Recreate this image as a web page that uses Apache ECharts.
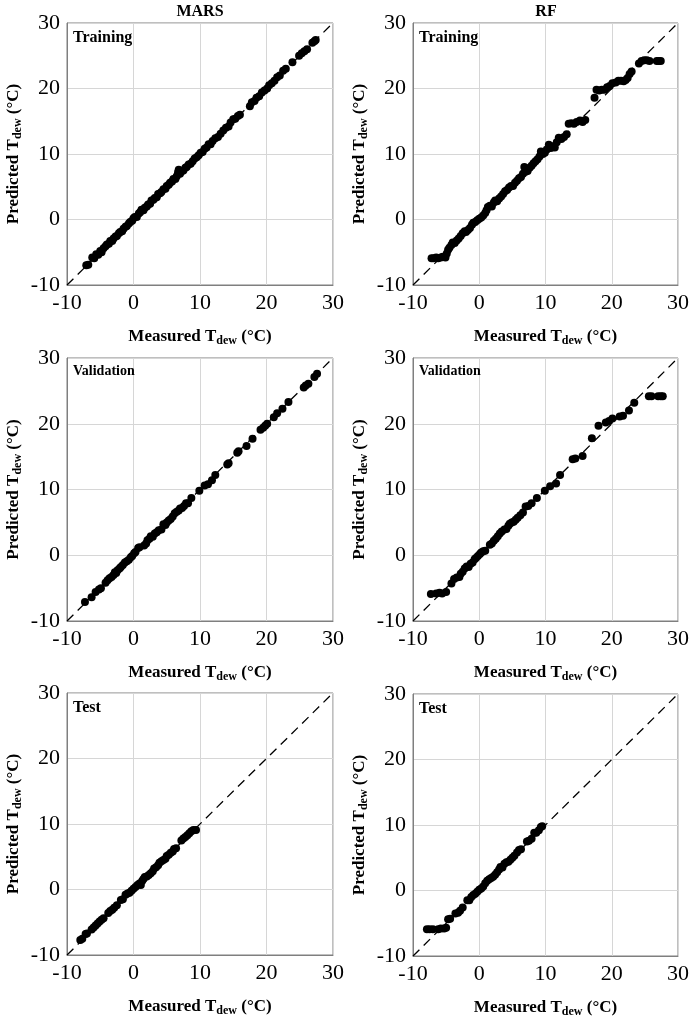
<!DOCTYPE html>
<html>
	<head>
		<meta charset="utf-8" />
		<title>MARS / RF Tdew</title>
		<style>
			html, body { margin: 0; padding: 0; background: #fff; }
			#chartmain { width: 692px; height: 1022px; }
		</style>
	</head>
	<body>
		<div id="chartmain"></div>
		<script type="text/javascript" src="https://cdn.jsdelivr.net/npm/echarts/dist/echarts.min.js"></script>
		<script type="text/javascript">
			// axis range and ticks (same for every panel)
			var axisMin = -10;
			var axisMax = 30;
			var tickStep = 10;

			var models = ['MARS', 'RF'];
			var phases = ['Training', 'Validation', 'Test'];

			// [measured, predicted]
			var marsTrain = [
				[-7.1,-7.0],[-6.8,-6.9],[-6.2,-5.8],[-5.9,-5.9],[-5.6,-5.3],[-5.3,-5.4],[-5.0,-4.8],[-4.8,-5.0],
				[-4.5,-4.4],[-4.2,-4.1],[-4.0,-3.8],[-3.7,-3.7],[-3.5,-3.3],[-3.2,-3.3],[-3.0,-2.9],[-2.7,-2.6],
				[-2.5,-2.5],[-2.2,-2.1],[-2.0,-1.9],[-1.7,-1.8],[-1.5,-1.4],[-1.2,-1.1],[-1.0,-1.0],[-0.7,-0.6],
				[-0.5,-0.4],[-0.2,-0.2],[0.0,0.2],[0.2,0.4],[0.5,0.4],[0.8,0.9],[1.0,1.1],[1.2,1.5],[1.5,1.4],
				[1.7,1.8],[2.0,2.0],[2.2,2.3],[2.5,2.4],[2.7,2.9],[3.0,3.0],[3.2,3.3],[3.5,3.4],[3.7,3.9],
				[4.0,4.0],[4.2,4.2],[4.5,4.6],[4.8,4.7],[5.0,5.1],[5.3,5.3],[5.5,5.6],[5.8,5.8],[6.0,6.2],
				[6.3,6.2],[6.5,6.6],[6.7,7.2],[6.8,7.6],[7.0,7.0],[7.3,7.4],[7.5,7.5],[7.8,7.9],[8.0,8.0],
				[8.3,8.4],[8.6,8.5],[8.9,8.9],[9.2,9.3],[9.5,9.5],[9.8,9.8],[10.1,10.2],[10.4,10.3],[10.7,10.8],
				[11.0,11.0],[11.3,11.5],[11.6,11.5],[11.9,12.0],[12.3,12.4],[12.7,12.6],[13.1,13.1],[13.5,13.6],
				[13.9,14.0],[14.3,14.2],[14.6,14.8],[15.0,15.3],[15.3,15.4],[15.7,15.8],[16.0,16.0],[17.5,17.3],
				[17.8,17.9],[18.2,18.1],[18.5,18.6],[18.9,18.8],[19.3,19.4],[19.7,19.7],[20.1,20.0],[20.4,20.5],
				[20.8,20.8],[21.2,21.2],[21.6,21.7],[22.0,22.0],[22.5,22.7],[22.9,23.0],[23.9,24.0],[24.9,25.0],
				[25.3,25.4],[25.7,25.7],[26.1,26.0],[26.9,27.0],[27.2,27.2],[27.4,27.4]
			];
			var rfTrain = [
				[-7.2,-5.9],[-6.9,-5.9],[-6.5,-5.8],[-6.2,-5.9],[-5.8,-5.8],[-5.5,-5.7],[-5.1,-5.8],[-4.9,-5.2],
				[-4.7,-4.6],[-4.5,-4.3],[-4.2,-3.9],[-4.0,-3.5],[-3.7,-3.6],[-3.4,-3.2],[-3.1,-2.9],[-2.8,-2.5],
				[-2.5,-2.1],[-2.2,-1.8],[-2.0,-1.9],[-1.7,-1.6],[-1.4,-1.3],[-1.1,-0.8],[-0.9,-0.5],[-0.6,-0.4],
				[-0.3,-0.1],[0.0,0.1],[0.3,0.3],[0.6,0.6],[0.9,1.0],[1.1,1.4],[1.3,1.9],[1.6,2.1],[1.9,2.0],
				[2.2,2.6],[2.4,2.9],[2.7,2.8],[3.0,3.2],[3.3,3.5],[3.6,3.9],[3.9,4.3],[4.2,4.5],[4.5,4.9],
				[4.8,5.1],[5.1,5.1],[5.4,5.6],[5.7,5.9],[6.0,6.3],[6.3,6.5],[6.6,7.0],[6.8,8.0],[7.0,7.3],
				[7.3,7.4],[7.6,7.9],[7.9,8.2],[8.2,8.6],[8.5,8.9],[8.8,9.2],[9.1,9.6],[9.3,10.4],[9.6,10.0],
				[9.9,10.2],[10.2,10.7],[10.5,11.4],[10.8,10.9],[11.1,11.2],[11.4,11.0],[11.7,11.8],[12.0,12.5],
				[12.4,12.3],[12.8,12.6],[13.2,13.0],[13.5,14.6],[13.9,14.7],[14.3,14.6],[14.7,14.9],[15.2,15.1],
				[15.6,14.9],[16.0,15.2],[17.4,18.6],[17.7,19.8],[18.1,19.7],[18.5,19.8],[18.9,19.8],[19.3,20.2],
				[19.7,20.4],[20.1,20.8],[20.6,20.9],[21.0,21.2],[21.4,21.2],[21.8,21.1],[22.1,21.3],[22.4,21.6],
				[22.7,22.2],[23.0,22.6],[24.1,23.8],[24.5,24.2],[24.9,24.3],[25.3,24.3],[25.7,24.2],[26.8,24.2],
				[27.1,24.2],[27.4,24.2]
			];
			var marsValid = [
				[-7.3,-7.1],[-6.3,-6.4],[-5.7,-5.6],[-5.2,-5.2],[-4.9,-5.0],[-4.2,-4.2],[-3.9,-3.8],[-3.6,-3.5],
				[-3.3,-3.3],[-3.0,-3.0],[-2.8,-2.6],[-2.6,-2.7],[-2.4,-2.3],[-2.1,-2.0],[-1.9,-1.8],[-1.6,-1.5],
				[-1.3,-1.1],[-1.0,-0.9],[-0.7,-0.7],[-0.4,-0.3],[-0.2,-0.1],[0.1,0.3],[0.3,0.5],[0.7,1.1],
				[0.9,1.2],[1.6,1.5],[1.9,1.8],[2.1,2.3],[2.4,2.5],[2.6,2.9],[2.9,2.8],[3.2,3.3],[3.5,3.5],
				[3.8,3.8],[4.2,3.9],[4.5,4.7],[4.8,4.6],[5.0,5.0],[5.3,5.3],[5.6,5.5],[5.9,5.9],[6.2,6.4],
				[6.5,6.6],[6.8,6.8],[7.0,7.1],[7.3,7.2],[7.6,7.5],[7.9,7.9],[8.2,7.9],[8.7,8.7],[9.9,9.8],
				[10.7,10.6],[11.2,10.8],[11.8,11.4],[12.3,12.2],[14.1,13.8],[14.3,14.0],[15.6,15.6],[15.8,15.8],
				[17.0,16.6],[17.9,17.7],[19.1,19.1],[19.5,19.4],[19.8,19.7],[20.1,20.0],[21.1,21.0],[21.6,21.6],
				[22.4,22.3],[23.3,23.3],[25.6,25.5],[25.9,25.8],[26.3,26.1],[27.2,27.1],[27.6,27.6]
			];
			var rfValid = [
				[-7.3,-5.9],[-6.5,-5.8],[-6.0,-5.7],[-5.6,-5.8],[-5.0,-5.6],[-4.2,-4.3],[-3.8,-3.6],[-3.4,-3.4],
				[-3.0,-3.3],[-2.8,-2.8],[-2.5,-2.5],[-2.2,-2.0],[-1.9,-1.7],[-1.6,-1.8],[-1.3,-1.3],[-1.0,-1.1],
				[-0.7,-0.6],[-0.5,-0.4],[-0.2,-0.1],[0.1,0.2],[0.3,0.4],[0.6,0.6],[0.9,0.7],[1.6,1.6],[1.9,1.8],
				[2.2,2.2],[2.5,2.5],[2.8,2.9],[3.1,3.3],[3.4,3.6],[3.8,3.9],[4.1,4.0],[4.4,4.5],[4.6,4.8],
				[4.9,5.0],[5.2,5.1],[5.5,5.4],[5.8,5.7],[6.2,6.1],[6.6,6.5],[7.0,7.4],[7.4,7.5],[7.9,7.9],
				[8.7,8.7],[9.9,9.8],[10.7,10.5],[11.6,10.9],[12.2,12.2],[14.1,14.6],[14.5,14.7],[15.6,15.1],
				[17.0,17.8],[18.0,19.7],[19.1,20.2],[19.6,20.4],[20.1,20.8],[21.2,21.1],[21.7,21.2],[22.6,22.0],
				[23.4,23.2],[25.6,24.2],[26.0,24.2],[27.0,24.2],[27.4,24.2],[27.7,24.2]
			];
			var marsTest = [
				[-8.0,-7.7],[-7.7,-7.5],[-7.2,-6.8],[-7.0,-6.7],[-6.3,-6.1],[-6.0,-5.8],[-5.7,-5.5],[-5.4,-5.2],
				[-5.1,-4.9],[-4.8,-4.6],[-4.5,-4.4],[-3.8,-3.6],[-3.5,-3.3],[-3.2,-3.1],[-2.9,-2.8],[-2.5,-2.4],
				[-1.9,-1.6],[-1.6,-1.5],[-1.2,-0.8],[-0.9,-0.6],[-0.6,-0.5],[-0.3,-0.2],[0.0,0.1],[0.3,0.4],
				[0.6,0.7],[0.9,0.9],[1.1,0.7],[1.3,1.3],[1.5,1.6],[1.7,1.9],[2.0,2.0],[2.3,2.2],[2.6,2.5],
				[2.9,2.8],[3.1,3.2],[3.4,3.4],[3.7,3.7],[3.9,4.1],[4.2,4.3],[4.5,4.5],[4.8,4.7],[5.0,5.1],
				[5.3,5.3],[5.6,5.6],[5.9,5.8],[6.1,6.2],[6.4,6.3],[7.2,7.5],[7.5,7.8],[7.8,8.0],[8.1,8.3],
				[8.4,8.6],[8.7,8.9],[9.0,9.1],[9.4,9.1]
			];
			var rfTest = [
				[-7.9,-5.9],[-7.5,-5.9],[-7.0,-5.9],[-6.2,-5.9],[-5.8,-5.8],[-5.3,-5.8],[-5.0,-5.7],[-4.7,-4.4],
				[-4.4,-4.3],[-3.6,-3.5],[-3.2,-3.4],[-2.9,-3.1],[-2.5,-2.6],[-1.8,-1.5],[-1.5,-1.5],[-1.2,-1.0],
				[-0.9,-0.7],[-0.6,-0.5],[-0.3,-0.2],[0.0,0.1],[0.3,0.3],[0.6,0.6],[0.9,1.1],[1.2,1.5],[1.5,1.7],
				[1.8,1.9],[2.1,2.1],[2.4,2.4],[2.7,2.8],[3.0,3.2],[3.2,3.6],[3.5,3.5],[3.8,4.1],[4.1,4.3],
				[4.4,4.4],[4.7,4.7],[5.0,5.0],[5.3,5.3],[5.7,5.8],[6.0,6.2],[6.3,6.3],[7.2,7.5],[7.5,7.6],
				[7.9,7.9],[8.3,8.8],[8.6,8.8],[9.0,9.2],[9.3,9.7],[9.5,9.8]
			];

			var panelData = [marsTrain, rfTrain, marsValid, rfValid, marsTest, rfTest];

			// grid boxes: left, top, width, height
			var boxes = [
				[67, 23, 266, 262], [413, 23, 266, 262],
				[67, 358, 266, 263], [413, 358, 266, 263],
				[67, 693, 266, 262], [413, 694, 266, 262]
			];
			var labelFont = {Training: 16, Validation: 14, Test: 16};

			var serif = "'Liberation Serif', 'Times New Roman', serif";
			var richName = {
				a: {fontFamily: serif, fontSize: 17, fontWeight: 'bold', color: '#000', lineHeight: 20},
				b: {fontFamily: serif, fontSize: 12, fontWeight: 'bold', color: '#000', lineHeight: 10, verticalAlign: 'bottom'}
			};

			var grids = [], xAxes = [], yAxes = [], series = [], titles = [];

			titles.push({text: models[0], left: 200, top: 4, textAlign: 'center', padding: 0,
				textStyle: {fontFamily: serif, fontSize: 16, fontWeight: 'bold', color: '#000'}});
			titles.push({text: models[1], left: 546, top: 4, textAlign: 'center', padding: 0,
				textStyle: {fontFamily: serif, fontSize: 16, fontWeight: 'bold', color: '#000'}});

			for (var i = 0; i < 6; i++) {
				var b = boxes[i];
				var phase = phases[Math.floor(i / 2)];
				grids.push({left: b[0], top: b[1], width: b[2], height: b[3],
					show: true, borderColor: '#7f7f7f', borderWidth: 1, backgroundColor: 'transparent'});

				var axisBase = {
					gridIndex: i,
					type: 'value',
					min: axisMin,
					max: axisMax,
					interval: tickStep,
					axisLine: {show: true, onZero: false, lineStyle: {color: '#7f7f7f', width: 1}},
					axisTick: {show: false},
					splitLine: {show: true, lineStyle: {color: '#d6d6d6', width: 1}},
					axisLabel: {fontFamily: serif, fontSize: 22, color: '#000', margin: 7},
					nameLocation: 'middle',
					nameTextStyle: {rich: richName}
				};
				xAxes.push(echarts.util.merge({name: '{a|Measured T}{b|dew}{a| (°C)}', nameGap: 42}, axisBase, true));
				yAxes.push(echarts.util.merge({name: '{a|Predicted T}{b|dew}{a| (°C)}', nameGap: 43, nameRotate: 90}, axisBase, true));

				// 1:1 line
				series.push({
					type: 'line', xAxisIndex: i, yAxisIndex: i,
					data: [[axisMin, axisMin], [axisMax, axisMax]],
					symbol: 'none', silent: true, z: 1,
					lineStyle: {color: '#000', width: 1.3, type: [9, 6]}
				});
				series.push({
					type: 'scatter', xAxisIndex: i, yAxisIndex: i,
					data: panelData[i],
					symbol: 'circle', symbolSize: 8, z: 2,
					itemStyle: {color: '#000', opacity: 1}
				});

				titles.push({
					text: phase, left: b[0] + 6, top: b[1] + (phase == 'Validation' ? 6 : 7), padding: 0,
					textStyle: {fontFamily: serif, fontSize: labelFont[phase], fontWeight: 'bold', color: '#000'}
				});
			}

			var option = {
				animation: false,
				backgroundColor: '#fff',
				title: titles,
				grid: grids,
				xAxis: xAxes,
				yAxis: yAxes,
				series: series
			};
			var myChart = echarts.init(document.getElementById('chartmain'));
			myChart.setOption(option);
		</script>
	</body>
</html>
